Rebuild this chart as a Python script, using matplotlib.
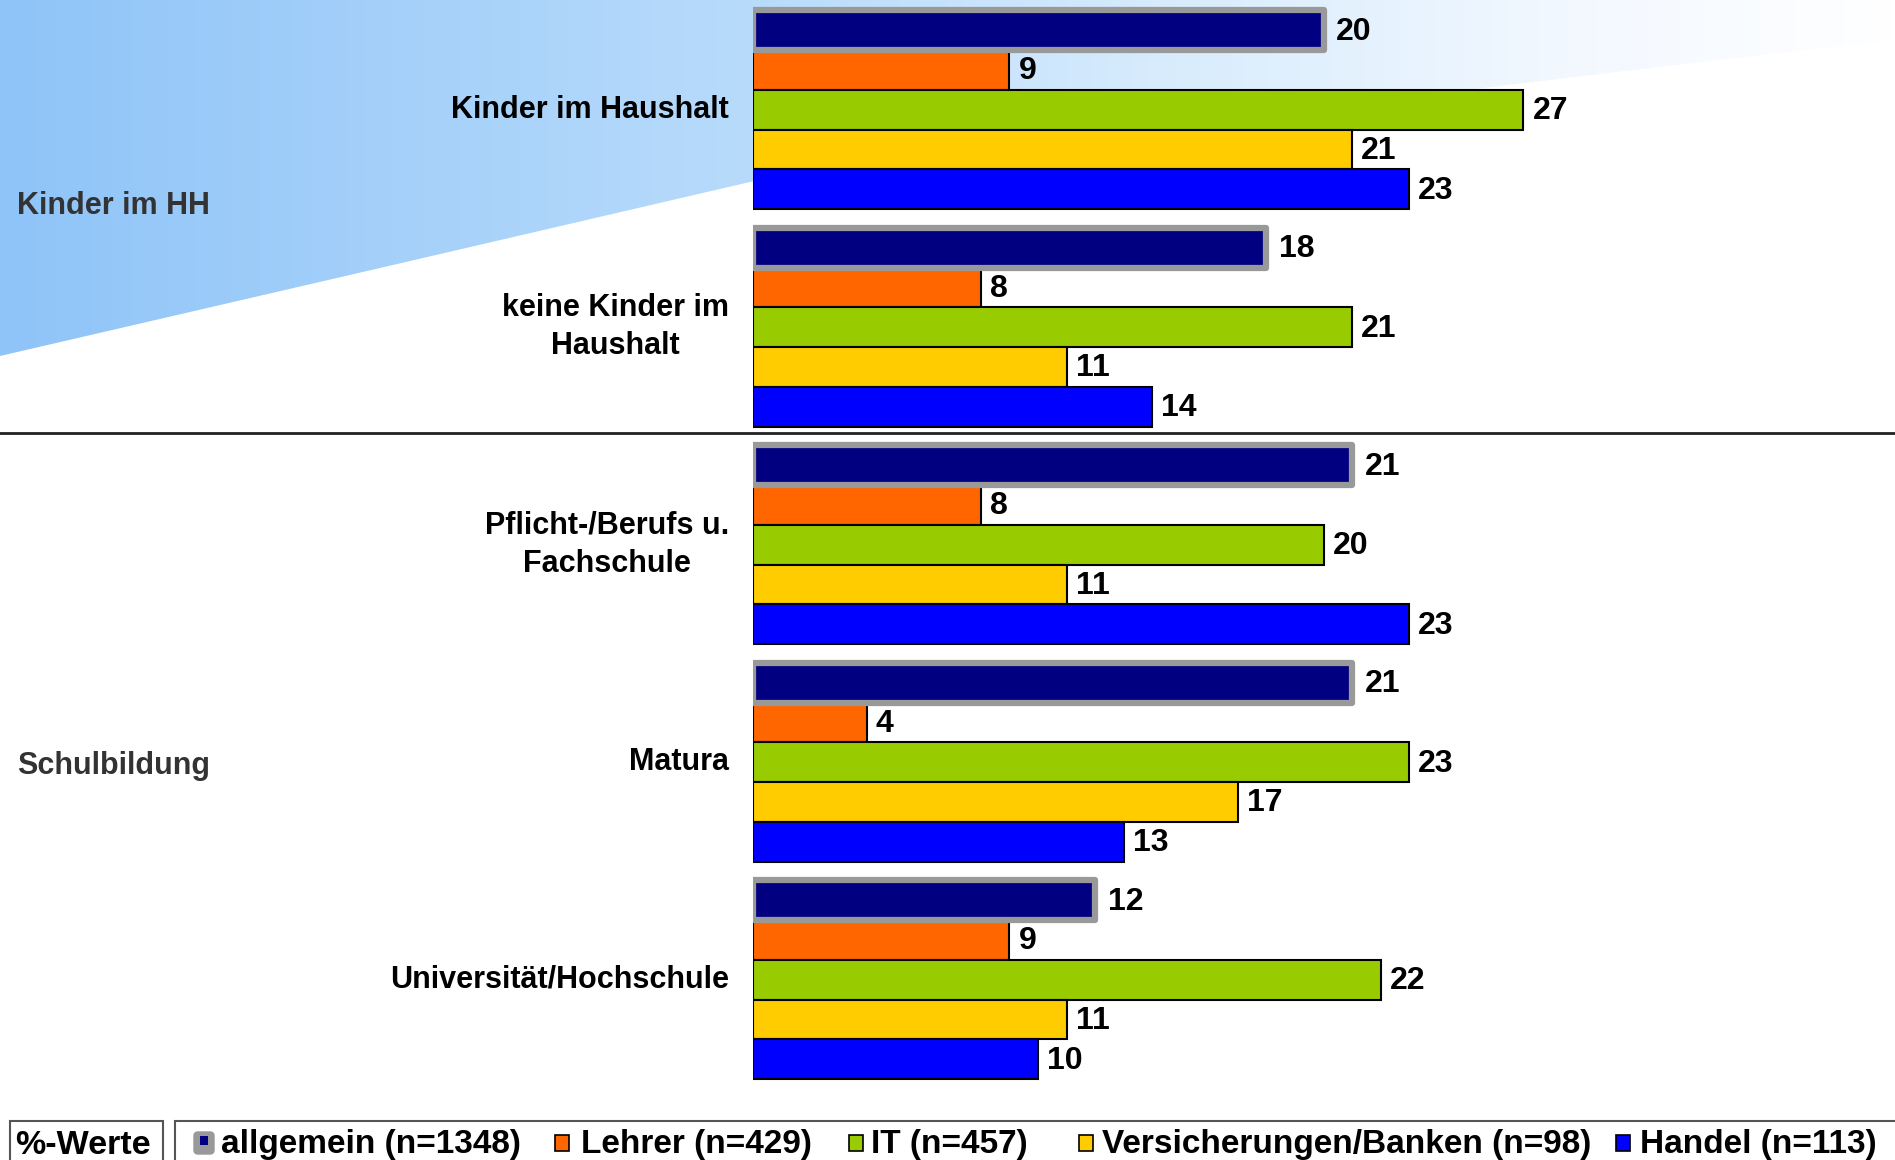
import matplotlib
matplotlib.use("Agg")
import matplotlib.pyplot as plt
import numpy as np
from matplotlib.patches import Rectangle, FancyBboxPatch, Polygon

# ---------------- data ----------------
categories = ["Kinder im Haushalt", "keine Kinder im\nHaushalt",
              "Pflicht-/Berufs u.\nFachschule", "Matura", "Universität/Hochschule"]
sections = ["Kinder im HH", "Schulbildung"]
series_names = ["allgemein (n=1348)", "Lehrer (n=429)", "IT (n=457)",
                "Versicherungen/Banken (n=98)", "Handel (n=113)"]
allgemein = [20, 18, 21, 21, 12]
lehrer = [9, 8, 8, 4, 9]
it = [27, 21, 20, 23, 22]
versicherungen = [21, 11, 11, 17, 11]
handel = [23, 14, 23, 13, 10]
unit_label = "%-Werte"

series_values = [allgemein, lehrer, it, versicherungen, handel]
colors = ["#000080", "#FF6600", "#99CC00", "#FFCC00", "#0000FF"]

FONT = ["Liberation Sans", "DejaVu Sans"]
plt.rcParams["font.family"] = FONT

W, H = 1895, 1160
fig = plt.figure(figsize=(W / 100, H / 100), dpi=100)

# ---------------- background layer (pixel coordinates) ----------------
bg = fig.add_axes([0, 0, 1, 1])
bg.set_xlim(0, W)
bg.set_ylim(H, 0)
bg.axis("off")

# gradient swoosh in the top-left
xs = np.linspace(0, W, 600)
cx = [0, 750, 1200, 1600, W]
cr = [143, 184, 218, 244, 255]
cg = [196, 219, 237, 249, 255]
cb = [248, 251, 253, 255, 255]
grad = np.zeros((1, len(xs), 3))
grad[0, :, 0] = np.interp(xs, cx, cr) / 255
grad[0, :, 1] = np.interp(xs, cx, cg) / 255
grad[0, :, 2] = np.interp(xs, cx, cb) / 255
im = bg.imshow(grad, extent=[0, W, 400, 0], aspect="auto", zorder=0)
bx = [0, 380, 750, 1100, 1400, 1700, W]
by = [356, 268, 182, 135, 98, 62, 40]
poly_pts = [(0, 0)] + list(zip(bx, by)) + [(W, 0)]
clip = Polygon(poly_pts, closed=True, transform=bg.transData, facecolor="none", edgecolor="none")
bg.add_patch(clip)
im.set_clip_path(clip)

# separator line between sections
bg.plot([0, W], [433, 433], color="#222222", lw=2, zorder=2)

# section labels
bg.text(17, 206, sections[0], fontsize=22, fontweight="bold", color="#333333",
        va="center", ha="left", zorder=3)
bg.text(17, 766, sections[1], fontsize=22, fontweight="bold", color="#333333",
        va="center", ha="left", zorder=3)

# ---------------- bars ----------------
x0 = 752.5
px_per_unit = 28.55
ax = fig.add_axes([x0 / W, 1 - 1088.5 / H, 1 - x0 / W, 1087.5 / H])
ax.set_xlim(0, (W - x0) / px_per_unit)
ax.set_ylim(4.5, -0.5)
ax.axis("off")
ax.patch.set_alpha(0)

h = 0.183
ypos = np.arange(len(categories))
order = [1, 2, 3, 4, 0]
for k in order:
    vals = series_values[k]
    y = ypos + (k - 2) * h
    if k == 0:
        ax.barh(y, vals, height=h, color=colors[k], edgecolor="#999999",
                linewidth=4.5, joinstyle="round", zorder=4)
        off = 9
    else:
        ax.barh(y, vals, height=h, color=colors[k], edgecolor="black",
                linewidth=1.5, zorder=3)
        off = 6.5
    for v, yy in zip(vals, y):
        ax.annotate(str(v), xy=(v, yy), xytext=(off, -1), textcoords="offset points",
                    ha="left", va="center", fontsize=23, fontweight="bold",
                    color="black", zorder=5)

for i, cat in enumerate(categories):
    ax.annotate(cat, xy=(0, i), xytext=(-17, 0), textcoords="offset points",
                ha="right", va="center", multialignment="center", linespacing=1.35,
                fontsize=22, fontweight="bold", color="black", annotation_clip=False)

# ---------------- legend (drawn manually) ----------------
bg.add_patch(Rectangle((10, 1121), 153, 60, facecolor="white", edgecolor="#555555",
                       lw=1.5, zorder=3))
bg.add_patch(Rectangle((175, 1121), 1740, 60, facecolor="white", edgecolor="#555555",
                       lw=1.5, zorder=3))
bg.text(15, 1145, unit_label, fontsize=24.5, fontweight="bold", va="center",
        ha="left", zorder=4)

marker_x = [204, 562, 856, 1086, 1623]
text_x = [221, 581, 871, 1102, 1640]
ly = 1144
for k, name in enumerate(series_names):
    mx = marker_x[k]
    if k == 0:
        bg.add_patch(FancyBboxPatch((mx - 8, ly - 10), 16, 18,
                                    boxstyle="round,pad=2,rounding_size=4",
                                    facecolor="#999999", edgecolor="#999999", zorder=4))
        bg.add_patch(Rectangle((mx - 4, ly - 8), 8, 9, facecolor=colors[0],
                               edgecolor="none", zorder=5))
    else:
        bg.add_patch(Rectangle((mx - 7, ly - 9), 14, 16, facecolor=colors[k],
                               edgecolor="black", lw=1.2, zorder=4))
    bg.text(text_x[k], ly + 1, name, fontsize=24, fontweight="bold", va="center",
            ha="left", zorder=4)

fig.savefig("out.png", dpi=100)
